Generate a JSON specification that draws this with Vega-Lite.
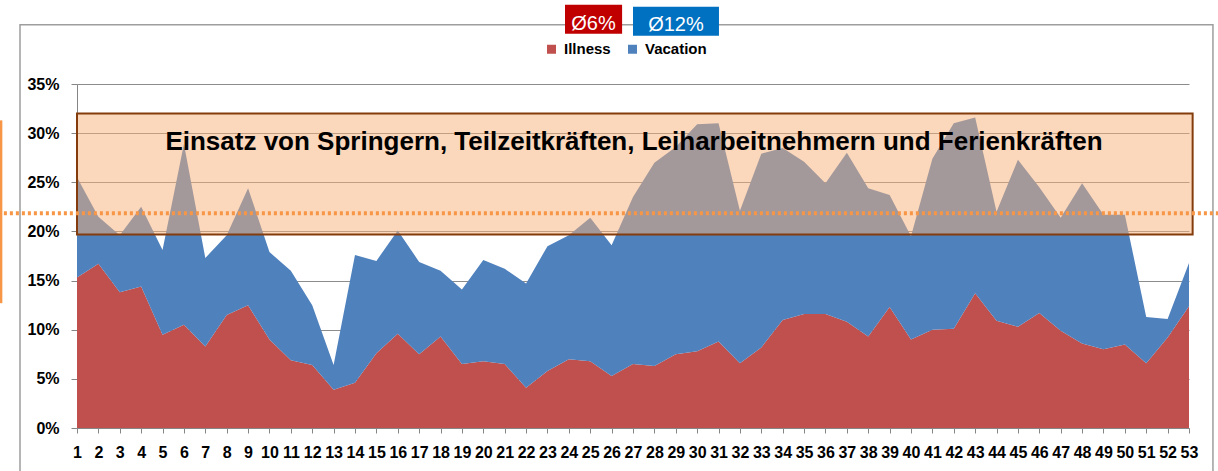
{
  "$schema": "https://vega.github.io/schema/vega-lite/v6.json",
  "width": 1112,
  "height": 344,
  "autosize": {"type": "none"},
  "padding": {"left": 77, "top": 84, "right": 29, "bottom": 43},
  "background": "white",
  "config": {
    "view": {"stroke": null},
    "font": "Liberation Sans",
    "axis": {
      "title": null, "labelFont": "Liberation Sans", "labelFontWeight": "bold", "labelFontSize": 16, "labelColor": "#000000",
      "labelOverlap": false, "labelFlush": false, "tickColor": "#868686", "domainColor": "#868686", "gridColor": "#8C8C8C", "gridWidth": 1
    },
    "axisX": {"grid": false, "labelPadding": 11, "tickSize": 5},
    "axisY": {"grid": true, "labelPadding": 12, "tickSize": 6}
  },
  "datasets": {
    "weeks": [
      {"week": 1, "Illness": 0.153, "Vacation": 0.102},
      {"week": 2, "Illness": 0.167, "Vacation": 0.048},
      {"week": 3, "Illness": 0.138, "Vacation": 0.058},
      {"week": 4, "Illness": 0.144, "Vacation": 0.081},
      {"week": 5, "Illness": 0.095, "Vacation": 0.086},
      {"week": 6, "Illness": 0.105, "Vacation": 0.184},
      {"week": 7, "Illness": 0.083, "Vacation": 0.090},
      {"week": 8, "Illness": 0.115, "Vacation": 0.081},
      {"week": 9, "Illness": 0.125, "Vacation": 0.119},
      {"week": 10, "Illness": 0.090, "Vacation": 0.089},
      {"week": 11, "Illness": 0.069, "Vacation": 0.091},
      {"week": 12, "Illness": 0.064, "Vacation": 0.061},
      {"week": 13, "Illness": 0.039, "Vacation": 0.025},
      {"week": 14, "Illness": 0.046, "Vacation": 0.130},
      {"week": 15, "Illness": 0.076, "Vacation": 0.094},
      {"week": 16, "Illness": 0.096, "Vacation": 0.105},
      {"week": 17, "Illness": 0.075, "Vacation": 0.094},
      {"week": 18, "Illness": 0.093, "Vacation": 0.067},
      {"week": 19, "Illness": 0.065, "Vacation": 0.076},
      {"week": 20, "Illness": 0.068, "Vacation": 0.103},
      {"week": 21, "Illness": 0.065, "Vacation": 0.097},
      {"week": 22, "Illness": 0.041, "Vacation": 0.106},
      {"week": 23, "Illness": 0.058, "Vacation": 0.127},
      {"week": 24, "Illness": 0.070, "Vacation": 0.126},
      {"week": 25, "Illness": 0.068, "Vacation": 0.146},
      {"week": 26, "Illness": 0.053, "Vacation": 0.133},
      {"week": 27, "Illness": 0.065, "Vacation": 0.170},
      {"week": 28, "Illness": 0.063, "Vacation": 0.207},
      {"week": 29, "Illness": 0.075, "Vacation": 0.211},
      {"week": 30, "Illness": 0.078, "Vacation": 0.231},
      {"week": 31, "Illness": 0.088, "Vacation": 0.222},
      {"week": 32, "Illness": 0.066, "Vacation": 0.155},
      {"week": 33, "Illness": 0.082, "Vacation": 0.197},
      {"week": 34, "Illness": 0.110, "Vacation": 0.175},
      {"week": 35, "Illness": 0.116, "Vacation": 0.155},
      {"week": 36, "Illness": 0.116, "Vacation": 0.133},
      {"week": 37, "Illness": 0.108, "Vacation": 0.172},
      {"week": 38, "Illness": 0.093, "Vacation": 0.151},
      {"week": 39, "Illness": 0.123, "Vacation": 0.114},
      {"week": 40, "Illness": 0.090, "Vacation": 0.105},
      {"week": 41, "Illness": 0.100, "Vacation": 0.174},
      {"week": 42, "Illness": 0.101, "Vacation": 0.209},
      {"week": 43, "Illness": 0.137, "Vacation": 0.179},
      {"week": 44, "Illness": 0.109, "Vacation": 0.111},
      {"week": 45, "Illness": 0.103, "Vacation": 0.170},
      {"week": 46, "Illness": 0.117, "Vacation": 0.128},
      {"week": 47, "Illness": 0.099, "Vacation": 0.115},
      {"week": 48, "Illness": 0.086, "Vacation": 0.163},
      {"week": 49, "Illness": 0.080, "Vacation": 0.137},
      {"week": 50, "Illness": 0.085, "Vacation": 0.132},
      {"week": 51, "Illness": 0.066, "Vacation": 0.047},
      {"week": 52, "Illness": 0.092, "Vacation": 0.019},
      {"week": 53, "Illness": 0.124, "Vacation": 0.044}
    ],
    "badges": [
      {"type": "Illness", "label": "Ø6%", "from": 23.82, "to": 26.49, "bottom": 0.4011, "top": 0.4306, "mid": 25.15, "base": 0.4049},
      {"type": "Vacation", "label": "Ø12%", "from": 27.0, "to": 31.02, "bottom": 0.3991, "top": 0.4286, "mid": 29.01, "base": 0.4042}
    ]
  },
  "layer": [
    {
      "data": {"name": "weeks"},
      "transform": [{"fold": ["Illness", "Vacation"], "as": ["type", "value"]}],
      "mark": {"type": "area", "interpolate": "linear"},
      "encoding": {
        "x": {
          "field": "week", "type": "quantitative", "title": null,
          "scale": {"domain": [1, 53], "nice": false, "zero": false},
          "axis": {
            "values": [1,2,3,4,5,6,7,8,9,10,11,12,13,14,15,16,17,18,19,20,21,22,23,24,25,26,27,28,29,30,31,32,33,34,35,36,37,38,39,40,41,42,43,44,45,46,47,48,49,50,51,52,53],
            "tickCount": 60, "format": "d", "labelOverlap": false
          }
        },
        "y": {
          "field": "value", "type": "quantitative", "stack": "zero", "title": null,
          "scale": {"domain": [0, 0.35], "nice": false},
          "axis": {"values": [0, 0.05, 0.1, 0.15, 0.2, 0.25, 0.3, 0.35], "tickCount": 10, "format": ".0%"}
        },
        "order": {"field": "type", "sort": "ascending"},
        "color": {
          "field": "type", "type": "nominal",
          "scale": {"domain": ["Illness", "Vacation"], "range": ["#C0504D", "#4F81BD"]},
          "legend": {
            "title": null, "orient": "none", "legendX": 467, "legendY": -42.5, "direction": "horizontal",
            "symbolType": "square", "symbolSize": 81, "symbolStrokeWidth": 0,
            "labelFont": "Liberation Sans", "labelFontWeight": "bold", "labelFontSize": 15, "labelColor": "#000000",
            "labelOffset": 5, "columnPadding": 14, "padding": 0
          }
        }
      }
    },
    {
      "data": {"values": [{"from": -1.665, "to": 54.12, "bottom": -0.08, "top": 0.4103}]},
      "mark": {"type": "rect", "fill": "transparent", "stroke": "#9E9E9E", "strokeWidth": 1.5},
      "encoding": {
        "x": {"field": "from", "type": "quantitative", "title": null, "scale": {"domain": [1, 53], "nice": false, "zero": false}},
        "x2": {"field": "to"},
        "y": {"field": "bottom", "type": "quantitative", "title": null, "scale": {"domain": [0, 0.35], "nice": false}},
        "y2": {"field": "top"}
      }
    },
    {
      "data": {"values": [{"from": 1, "to": 53.17, "bottom": 0.197, "top": 0.32}]},
      "mark": {"type": "rect", "fill": "#F7AF77", "fillOpacity": 0.5, "stroke": "#843C0C", "strokeWidth": 2},
      "encoding": {
        "x": {"field": "from", "type": "quantitative", "title": null, "scale": {"domain": [1, 53], "nice": false, "zero": false}},
        "x2": {"field": "to"},
        "y": {"field": "bottom", "type": "quantitative", "title": null, "scale": {"domain": [0, 0.35], "nice": false}},
        "y2": {"field": "top"}
      }
    },
    {
      "data": {"values": [{"from": -2.7, "to": 54.5, "level": 0.2185}]},
      "mark": {"type": "rule", "color": "#F79646", "strokeWidth": 4, "strokeDash": [3, 3]},
      "encoding": {
        "x": {"field": "from", "type": "quantitative", "title": null, "scale": {"domain": [1, 53], "nice": false, "zero": false}},
        "x2": {"field": "to"},
        "y": {"field": "level", "type": "quantitative", "title": null, "scale": {"domain": [0, 0.35], "nice": false}}
      }
    },
    {
      "data": {"values": [{"at": -2.55, "bottom": 0.127, "top": 0.313}]},
      "mark": {"type": "rule", "color": "#F79646", "strokeWidth": 2.5},
      "encoding": {
        "x": {"field": "at", "type": "quantitative", "title": null, "scale": {"domain": [1, 53], "nice": false, "zero": false}},
        "y": {"field": "bottom", "type": "quantitative", "title": null, "scale": {"domain": [0, 0.35], "nice": false}},
        "y2": {"field": "top"}
      }
    },
    {
      "data": {"values": [{"at": 27.046, "level": 0.2832, "text": "Einsatz von Springern, Teilzeitkräften, Leiharbeitnehmern und Ferienkräften"}]},
      "mark": {"type": "text", "font": "Liberation Sans", "fontWeight": "bold", "fontSize": 26, "color": "#000000", "align": "center", "baseline": "alphabetic"},
      "encoding": {
        "x": {"field": "at", "type": "quantitative", "title": null, "scale": {"domain": [1, 53], "nice": false, "zero": false}},
        "y": {"field": "level", "type": "quantitative", "title": null, "scale": {"domain": [0, 0.35], "nice": false}},
        "text": {"field": "text"}
      }
    },
    {
      "data": {"name": "badges"},
      "mark": {"type": "rect"},
      "encoding": {
        "x": {"field": "from", "type": "quantitative", "title": null, "scale": {"domain": [1, 53], "nice": false, "zero": false}},
        "x2": {"field": "to"},
        "y": {"field": "bottom", "type": "quantitative", "title": null, "scale": {"domain": [0, 0.35], "nice": false}},
        "y2": {"field": "top"},
        "fill": {"field": "type", "type": "nominal", "scale": {"domain": ["Illness", "Vacation"], "range": ["#C00000", "#0070C0"]}, "legend": null}
      }
    },
    {
      "data": {"name": "badges"},
      "mark": {"type": "text", "font": "Liberation Sans", "fontSize": 20, "color": "#FFFFFF", "align": "center", "baseline": "alphabetic"},
      "encoding": {
        "x": {"field": "mid", "type": "quantitative", "title": null, "scale": {"domain": [1, 53], "nice": false, "zero": false}},
        "y": {"field": "base", "type": "quantitative", "title": null, "scale": {"domain": [0, 0.35], "nice": false}},
        "text": {"field": "label"}
      }
    }
  ]
}
